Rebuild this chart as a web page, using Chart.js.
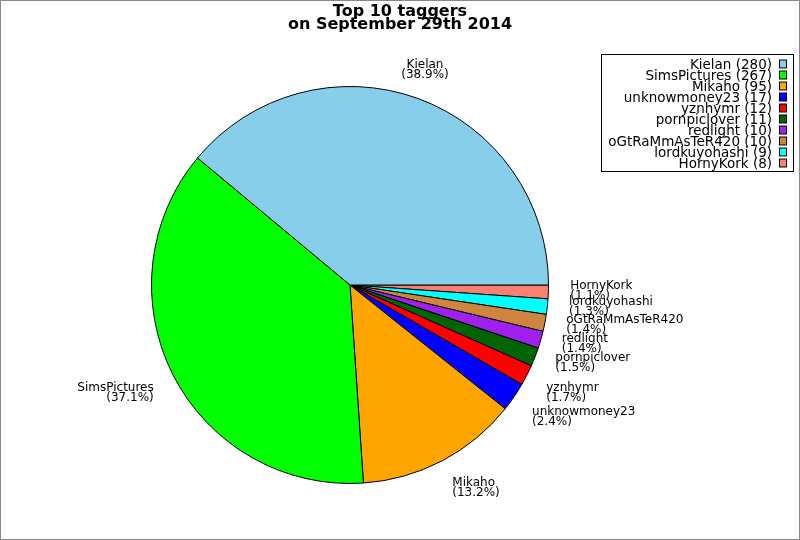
<!DOCTYPE html>
<html>
<head>
<meta charset="utf-8">
<script src="https://cdn.jsdelivr.net/npm/chart.js@4.4.1/dist/chart.umd.min.js"></script>
<style>
  html, body { margin: 0; padding: 0; background: #fff; }
  canvas { display: block; }
</style>
</head>
<body>
<canvas id="pieChart" width="800" height="540"></canvas>
<script>
// data
const taggers = ['Kielan', 'SimsPictures', 'Mikaho', 'unknowmoney23', 'yznhymr',
  'pornpiclover', 'redlight', 'oGtRaMmAsTeR420', 'lordkuyohashi', 'HornyKork'];
const tagCounts = [280, 267, 95, 17, 12, 11, 10, 10, 9, 8];
const sliceColors = ['#87ceeb', '#00ff00', '#ffa500', '#0000ff', '#ff0000',
  '#006400', '#a020f0', '#cd853f', '#00ffff', '#fa8072'];
const titleLines = ['Top 10 taggers', 'on September 29th 2014'];

const total = tagCounts.reduce((a, b) => a + b, 0);

// chart.js goes clockwise, the picture goes counter-clockwise from 3 o'clock,
// so feed the slices in reverse order
const revLabels = taggers.slice().reverse();
const revCounts = tagCounts.slice().reverse();
const revColors = sliceColors.slice().reverse();

// title, legend, slice labels and frame
const extras = {
  id: 'extras',
  afterDraw(chart) {
    const ctx = chart.ctx;
    ctx.save();

    // frame round the picture
    ctx.strokeStyle = '#888888';
    ctx.lineWidth = 1;
    ctx.strokeRect(0.5, 0.5, 799, 539);

    // title
    ctx.fillStyle = '#000';
    ctx.font = 'bold 16px "DejaVu Sans"';
    ctx.textAlign = 'center';
    ctx.textBaseline = 'alphabetic';
    ctx.fillText(titleLines[0], 400, 15.5);
    ctx.fillText(titleLines[1], 400, 29);

    // labels outside the slices
    const meta = chart.getDatasetMeta(0);
    ctx.font = '12px "DejaVu Sans"';
    meta.data.forEach((arc, i) => {
      const p = arc.getProps(['x', 'y', 'startAngle', 'endAngle', 'outerRadius'], true);
      const mid = (p.startAngle + p.endAngle) / 2;
      const c = Math.cos(mid), s = Math.sin(mid);
      const r = p.outerRadius * 1.11;
      const px = p.x + r * c, py = p.y + r * s;
      const lines = [revLabels[i], '(' + (revCounts[i] / total * 100).toFixed(1) + '%)'];
      ctx.textAlign = c > 0.4 ? 'left' : (c < -0.4 ? 'right' : 'center');
      let top;
      if (s > 0.4) top = py - 3;
      else if (s < -0.4) top = py - 19;
      else top = py - 13;
      ctx.fillText(lines[0], px, top + 9);
      ctx.fillText(lines[1], px, top + 19);
    });

    // legend box
    ctx.strokeStyle = '#000';
    ctx.strokeRect(601.5, 54.5, 192, 117);
    ctx.font = '13.5px "DejaVu Sans"';
    ctx.textAlign = 'right';
    taggers.forEach((name, i) => {
      const cy = 64 + i * 11;
      ctx.fillStyle = '#000';
      ctx.fillText(name + ' (' + tagCounts[i] + ')', 772, cy + 4.5);
      ctx.fillStyle = sliceColors[i];
      ctx.fillRect(779.5, cy - 4, 7, 8);
      ctx.strokeRect(779.5, cy - 4, 7, 8);
    });

    ctx.restore();
  }
};

new Chart(document.getElementById('pieChart'), {
  type: 'pie',
  data: {
    labels: revLabels,
    datasets: [{
      data: revCounts,
      backgroundColor: revColors,
      borderColor: '#000',
      borderWidth: 1,
      hoverOffset: 0
    }]
  },
  options: {
    responsive: false,
    animation: false,
    devicePixelRatio: 1,
    rotation: 90,
    layout: {
      padding: { left: 151, right: 251, top: 86, bottom: 56 }
    },
    plugins: {
      legend: { display: false },
      title: { display: false },
      tooltip: { enabled: false }
    }
  },
  plugins: [extras]
});
</script>
</body>
</html>
